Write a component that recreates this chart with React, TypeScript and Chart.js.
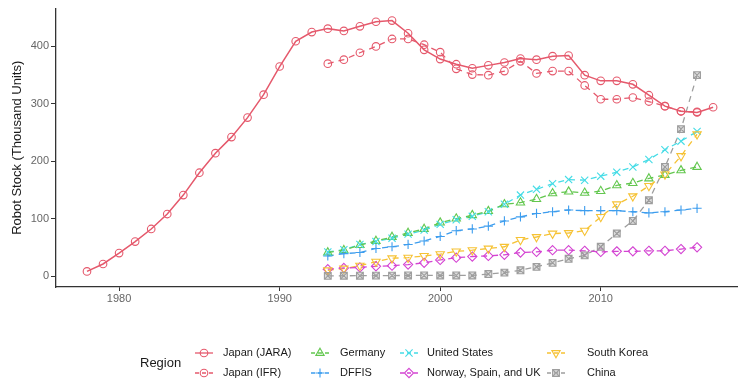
import { useEffect, useRef } from 'react';
import { Chart, registerables } from 'chart.js';

Chart.register(...registerables);

// ---- data -------------------------------------------------------------
const jaraYears = [
  1978, 1979, 1980, 1981, 1982, 1983, 1984, 1985, 1986, 1987,
  1988, 1989, 1990, 1991, 1992, 1993, 1994, 1995, 1996, 1997,
  1998, 1999, 2000, 2001, 2002, 2003, 2004, 2005, 2006, 2007,
  2008, 2009, 2010, 2011, 2012, 2013, 2014, 2015, 2016, 2017,
];
const japanJara = [
  8, 21, 40, 60, 82, 108, 141, 180, 214, 242,
  276, 316, 365, 409, 425, 431, 427, 435, 443, 445,
  423, 394, 378, 369, 362, 367, 372, 379, 377, 383,
  384, 350, 340, 340, 334, 315, 296, 287, 285, 294,
];

const ifrYears = [
  1993, 1994, 1995, 1996, 1997, 1998, 1999, 2000, 2001, 2002, 2003, 2004,
  2005, 2006, 2007, 2008, 2009, 2010, 2011, 2012, 2013, 2014, 2015, 2016,
];
const japanIfr = [
  370, 377, 389, 400, 413, 413, 403, 390, 361, 351, 350, 357,
  374, 353, 357, 357, 332, 308, 308, 311, 304, 296, 287, 286,
];
const germany = [
  41, 45, 54, 61, 68, 75, 82, 93, 100, 106, 113, 125,
  128, 134, 144, 147, 145, 148, 158, 162, 170, 176, 184, 190,
];
const unitedStates = [
  42, 46, 55, 60, 66, 73, 80, 90, 98, 104, 112, 125,
  141, 151, 161, 168, 167, 174, 181, 190, 203, 220, 235, 252,
];
const dffis = [
  35, 39, 41, 48, 51, 55, 61, 69, 79, 82, 87, 96,
  103, 109, 112, 115, 114, 114, 114, 112, 110, 112, 115, 118,
];
const norwaySpainUk = [
  12, 14, 15, 17, 18, 20, 23, 28, 32, 34, 35, 37,
  41, 42, 45, 45, 44, 42, 43, 43, 44, 44, 47, 50,
];
const southKorea = [
  10, 13, 18, 25, 31, 32, 35, 38, 43, 45, 48, 51,
  63, 68, 74, 75, 79, 103, 125, 139, 157, 177, 209, 247,
];
const china = [
  0.3, 0.5, 0.6, 0.7, 0.8, 1, 1, 1, 1, 1, 3.5, 6,
  10, 16, 23, 30, 36, 51, 74, 96, 132, 190, 256, 350,
];

const xTicks = [1980, 1990, 2000, 2010];
const yTicks = [0, 100, 200, 300, 400];

// ---- series styling -------------------------------------------------
type Shape = 'circle' | 'triangle' | 'cross' | 'x' | 'diamond' | 'triangleDown' | 'squareX';

interface Series {
  label: string;
  years: number[];
  values: number[];
  color: string;
  shape: Shape;
  dashed: boolean;
}

const JAPAN = '#E5596C';

const series: Series[] = [
  { label: 'Japan (JARA)', years: jaraYears, values: japanJara, color: JAPAN, shape: 'circle', dashed: false },
  { label: 'Japan (IFR)', years: ifrYears, values: japanIfr, color: JAPAN, shape: 'circle', dashed: true },
  { label: 'Germany', years: ifrYears, values: germany, color: '#63C74F', shape: 'triangle', dashed: true },
  { label: 'DFFIS', years: ifrYears, values: dffis, color: '#3D9DEE', shape: 'cross', dashed: true },
  { label: 'United States', years: ifrYears, values: unitedStates, color: '#45DCE6', shape: 'x', dashed: true },
  { label: 'Norway, Spain, and UK', years: ifrYears, values: norwaySpainUk, color: '#D444D2', shape: 'diamond', dashed: true },
  { label: 'South Korea', years: ifrYears, values: southKorea, color: '#F6C234', shape: 'triangleDown', dashed: true },
  { label: 'China', years: ifrYears, values: china, color: '#9E9E9E', shape: 'squareX', dashed: true },
];

const FONT = '"Liberation Sans", Arial, Helvetica, sans-serif';
const DASH = [6, 5];

function drawMarker(ctx: CanvasRenderingContext2D, shape: Shape, x: number, y: number, color: string) {
  ctx.save();
  ctx.strokeStyle = color;
  ctx.lineWidth = 1.1;
  ctx.setLineDash([]);
  ctx.beginPath();
  switch (shape) {
    case 'circle':
      ctx.arc(x, y, 3.8, 0, Math.PI * 2);
      break;
    case 'triangle': {
      const r = 4.8;
      ctx.moveTo(x, y - r);
      ctx.lineTo(x + r * 0.866, y + r * 0.5);
      ctx.lineTo(x - r * 0.866, y + r * 0.5);
      ctx.closePath();
      break;
    }
    case 'triangleDown': {
      const r = 4.8;
      ctx.moveTo(x, y + r);
      ctx.lineTo(x + r * 0.866, y - r * 0.5);
      ctx.lineTo(x - r * 0.866, y - r * 0.5);
      ctx.closePath();
      break;
    }
    case 'cross': {
      const r = 4.6;
      ctx.moveTo(x - r, y);
      ctx.lineTo(x + r, y);
      ctx.moveTo(x, y - r);
      ctx.lineTo(x, y + r);
      break;
    }
    case 'x': {
      const r = 3.6;
      ctx.moveTo(x - r, y - r);
      ctx.lineTo(x + r, y + r);
      ctx.moveTo(x - r, y + r);
      ctx.lineTo(x + r, y - r);
      break;
    }
    case 'diamond': {
      const r = 4.6;
      ctx.moveTo(x, y - r);
      ctx.lineTo(x + r, y);
      ctx.lineTo(x, y + r);
      ctx.lineTo(x - r, y);
      ctx.closePath();
      break;
    }
    case 'squareX': {
      const s = 3.4;
      ctx.fillStyle = 'rgba(158,158,158,0.35)';
      ctx.fillRect(x - s, y - s, 2 * s, 2 * s);
      ctx.rect(x - s, y - s, 2 * s, 2 * s);
      ctx.moveTo(x - s, y - s);
      ctx.lineTo(x + s, y + s);
      ctx.moveTo(x - s, y + s);
      ctx.lineTo(x + s, y - s);
      break;
    }
  }
  ctx.stroke();
  ctx.restore();
}

// markers on every data point, placed by the chart's own scales
const markerPlugin = {
  id: 'markers',
  afterDatasetsDraw(chart: Chart) {
    const ctx = chart.ctx;
    series.forEach((s, i) => {
      const meta = chart.getDatasetMeta(i);
      meta.data.forEach((pt: any) => {
        drawMarker(ctx, s.shape, pt.x, pt.y, s.color);
      });
    });
  },
};

// y-axis title and the two-row legend underneath the plot
const legendColumns = [
  { keyX: 195, textX: 223, items: [0, 1] },
  { keyX: 311, textX: 340, items: [2, 3] },
  { keyX: 400, textX: 427, items: [4, 5] },
  { keyX: 547, textX: 587, items: [6, 7] },
];
const legendRows = [353, 373];

const decorPlugin = {
  id: 'decor',
  afterDraw(chart: Chart) {
    const ctx = chart.ctx;
    const area = chart.chartArea;

    ctx.save();
    ctx.fillStyle = '#1a1a1a';
    ctx.font = `13px ${FONT}`;
    ctx.textAlign = 'center';
    ctx.textBaseline = 'middle';
    ctx.translate(17, (area.top + area.bottom) / 2);
    ctx.rotate(-Math.PI / 2);
    ctx.fillText('Robot Stock (Thousand Units)', 0, 0);
    ctx.restore();

    ctx.save();
    ctx.fillStyle = '#1a1a1a';
    ctx.font = `13px ${FONT}`;
    ctx.textAlign = 'left';
    ctx.textBaseline = 'middle';
    ctx.fillText('Region', 140, 363);

    ctx.font = `11px ${FONT}`;
    legendColumns.forEach((col) => {
      col.items.forEach((idx, r) => {
        const s = series[idx];
        const y = legendRows[r];
        ctx.save();
        ctx.strokeStyle = s.color;
        ctx.lineWidth = 1.3;
        ctx.setLineDash(s.dashed ? [4, 3] : []);
        ctx.beginPath();
        ctx.moveTo(col.keyX, y);
        ctx.lineTo(col.keyX + 18, y);
        ctx.stroke();
        ctx.restore();
        drawMarker(ctx, s.shape, col.keyX + 9, y, s.color);
        ctx.fillStyle = '#1a1a1a';
        ctx.fillText(s.label, col.textX, y);
      });
    });
    ctx.restore();
  },
};

export default function App() {
  const canvasRef = useRef<HTMLCanvasElement | null>(null);

  useEffect(() => {
    const canvas = canvasRef.current;
    if (!canvas) return;

    const chart = new Chart(canvas, {
      type: 'line',
      data: {
        datasets: series.map((s) => ({
          label: s.label,
          data: s.years.map((yr, i) => ({ x: yr, y: s.values[i] })),
          borderColor: s.color,
          backgroundColor: s.color,
          borderWidth: s.dashed ? 1.3 : 1.5,
          borderDash: s.dashed ? DASH : [],
          pointRadius: 0,
          pointHoverRadius: 0,
          tension: 0,
          fill: false,
        })),
      },
      options: {
        responsive: false,
        animation: false,
        events: [],
        layout: { padding: { left: 0, right: 0, top: 8, bottom: 72 } },
        plugins: {
          legend: { display: false },
          tooltip: { enabled: false },
        },
        scales: {
          x: {
            type: 'linear',
            min: 1976.07,
            max: 2018.55,
            afterBuildTicks: (scale: any) => {
              scale.ticks = xTicks.map((v) => ({ value: v }));
            },
            afterFit: (scale: any) => {
              scale.height = 20;
            },
            grid: {
              display: true,
              drawOnChartArea: false,
              drawTicks: true,
              tickLength: 4,
              color: '#333333',
              lineWidth: 1,
            },
            border: { display: true, color: '#333333', width: 1.3 },
            ticks: {
              color: '#666666',
              font: { family: FONT, size: 11 },
              padding: 1,
              maxRotation: 0,
              autoSkip: false,
              callback: (v: any) => String(v),
            },
          },
          y: {
            type: 'linear',
            min: -19.1,
            max: 465.9,
            afterBuildTicks: (scale: any) => {
              scale.ticks = yTicks.map((v) => ({ value: v }));
            },
            afterFit: (scale: any) => {
              scale.width = 56;
            },
            grid: {
              display: true,
              drawOnChartArea: false,
              drawTicks: true,
              tickLength: 5,
              color: '#333333',
              lineWidth: 1,
            },
            border: { display: true, color: '#333333', width: 1.3 },
            ticks: {
              color: '#666666',
              font: { family: FONT, size: 11 },
              padding: 2,
              autoSkip: false,
              callback: (v: any) => String(v),
            },
          },
        },
      },
      plugins: [markerPlugin, decorPlugin],
    });

    return () => chart.destroy();
  }, []);

  return (
    <div style={{ position: 'fixed', left: 0, top: 0, width: 738, height: 379, background: '#ffffff' }}>
      <canvas ref={canvasRef} width={738} height={379} style={{ display: 'block' }} />
    </div>
  );
}
